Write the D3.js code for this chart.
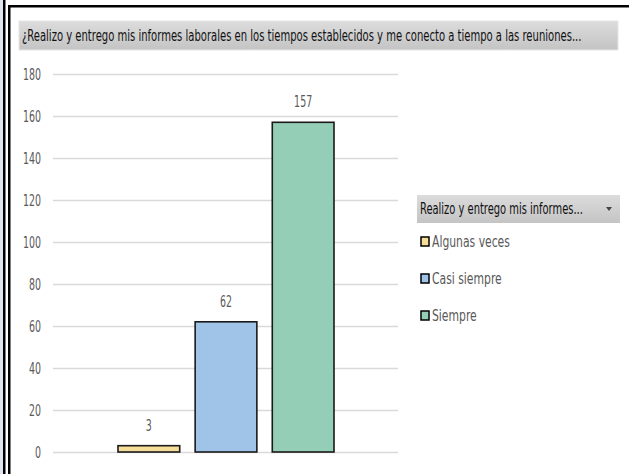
<!DOCTYPE html>
<html>
<head>
<meta charset="utf-8">
<script src="https://cdn.jsdelivr.net/npm/d3@7"></script>
<style>
  html, body { margin: 0; padding: 0; background: #fff; }
  svg { display: block; }
  text { font-family: "Liberation Sans Narrow", "DejaVu Sans Condensed", "Arial Narrow", sans-serif; }
</style>
</head>
<body>
<script>
const categories = ["Algunas veces", "Casi siempre", "Siempre"];
const values = [3, 62, 157];
const colors = ["#F6DE9A", "#9FC4E7", "#94CEB6"];
const yTicks = [0, 20, 40, 60, 80, 100, 120, 140, 160, 180];
const titleText = "¿Realizo y entrego mis informes laborales en los tiempos establecidos y me conecto a tiempo a las reuniones...";
const legendTitle = "Realizo y entrego mis informes...";

const W = 629, H = 474;
const svg = d3.select("body").append("svg").attr("width", W).attr("height", H);

// horizontally condense a text around its anchor x
function condense(sel, f) {
  sel.each(function () {
    const t = d3.select(this);
    const ax = +t.attr("x") || 0;
    const prev = t.attr("transform") || "";
    t.attr("transform", `${prev} translate(${ax},0) scale(${f},1) translate(${-ax},0)`);
  });
}
function fitWidth(sel, w) {
  const n = sel.node().getComputedTextLength();
  condense(sel, w / n);
  return w / n;
}

const defs = svg.append("defs");
const grad = defs.append("linearGradient").attr("id", "gbar").attr("x1", 0).attr("y1", 0).attr("x2", 0).attr("y2", 1);
grad.append("stop").attr("offset", "0%").attr("stop-color", "#dcdcdc");
grad.append("stop").attr("offset", "100%").attr("stop-color", "#c4c4c4");

// spreadsheet background strip on left
svg.append("rect").attr("x", 0).attr("y", 0).attr("width", 3).attr("height", H).attr("fill", "#dfe6f1");
// frame lines
svg.append("rect").attr("x", 3).attr("y", 0).attr("width", 2.5).attr("height", H).attr("fill", "#000");
svg.append("rect").attr("x", 8).attr("y", 5).attr("width", 2.5).attr("height", H).attr("fill", "#000");
svg.append("rect").attr("x", 8).attr("y", 5).attr("width", W - 8).attr("height", 2.5).attr("fill", "#000");

// title bar
svg.append("rect").attr("x", 19).attr("y", 21).attr("width", 599).attr("height", 29)
  .attr("fill", "url(#gbar)").attr("stroke", "#e6e6e6").attr("stroke-width", 1);
const title = svg.append("text").attr("x", 22).attr("y", 41).attr("font-size", 15).attr("fill", "#111").text(titleText);
fitWidth(title, 560);

// scales
const y = d3.scaleLinear().domain([0, 180]).range([452, 74]);
const x = d3.scaleBand().domain(categories).range([118, 334]).paddingInner(0.2).paddingOuter(0);

// gridlines
const grid = svg.append("g").attr("transform", "translate(53,0)")
  .call(d3.axisLeft(y).tickValues(yTicks).tickSize(-345).tickFormat(""));
grid.select(".domain").remove();
grid.selectAll("line").attr("stroke", "#d9d9d9").attr("stroke-width", 1.5);

const numScale = 0.7;

// y axis labels
const yAxis = svg.append("g").attr("transform", "translate(41,0)")
  .call(d3.axisLeft(y).tickValues(yTicks).tickSize(0).tickPadding(0));
yAxis.select(".domain").remove();
yAxis.selectAll("text").attr("font-size", 15).attr("fill", "#595959")
  .style("font-family", "'Liberation Sans Narrow', 'DejaVu Sans Condensed', sans-serif")
  .attr("dy", "0.34em");
condense(yAxis.selectAll("text"), numScale);

// bars
svg.append("g").selectAll("rect").data(values).join("rect")
  .attr("x", (d, i) => x(categories[i]))
  .attr("y", d => y(d))
  .attr("width", x.bandwidth())
  .attr("height", d => y(0) - y(d))
  .attr("fill", (d, i) => colors[i])
  .attr("stroke", "#1a1a1a").attr("stroke-width", 1.6);

// data labels
const labels = svg.append("g").selectAll("text").data(values).join("text")
  .attr("x", (d, i) => x(categories[i]) + x.bandwidth() / 2)
  .attr("y", d => y(d) - 15)
  .attr("text-anchor", "middle").attr("font-size", 15).attr("fill", "#595959")
  .text(d => d);
condense(labels, numScale);

// legend
const lg = svg.append("g");
lg.append("rect").attr("x", 417).attr("y", 195).attr("width", 203).attr("height", 28).attr("fill", "url(#gbar)");
const lt = lg.append("text").attr("x", 420).attr("y", 214).attr("font-size", 15).attr("fill", "#111").text(legendTitle);
fitWidth(lt, 163);
lg.append("path").attr("d", "M606,207 L612,207 L609,211 Z").attr("fill", "#444");

const items = lg.selectAll("g.item").data(categories).join("g").attr("class", "item")
  .attr("transform", (d, i) => `translate(0, ${242 + i * 37})`);
items.append("rect").attr("x", 421).attr("y", -5).attr("width", 8).attr("height", 9)
  .attr("fill", (d, i) => colors[i]).attr("stroke", "#000").attr("stroke-width", 1.5);
const itemTexts = items.append("text").attr("x", 432).attr("y", 5).attr("font-size", 15).attr("fill", "#595959")
  .text(d => d);
const f0 = itemTexts.node().getComputedTextLength();
condense(itemTexts, 78 / f0);
</script>
</body>
</html>
